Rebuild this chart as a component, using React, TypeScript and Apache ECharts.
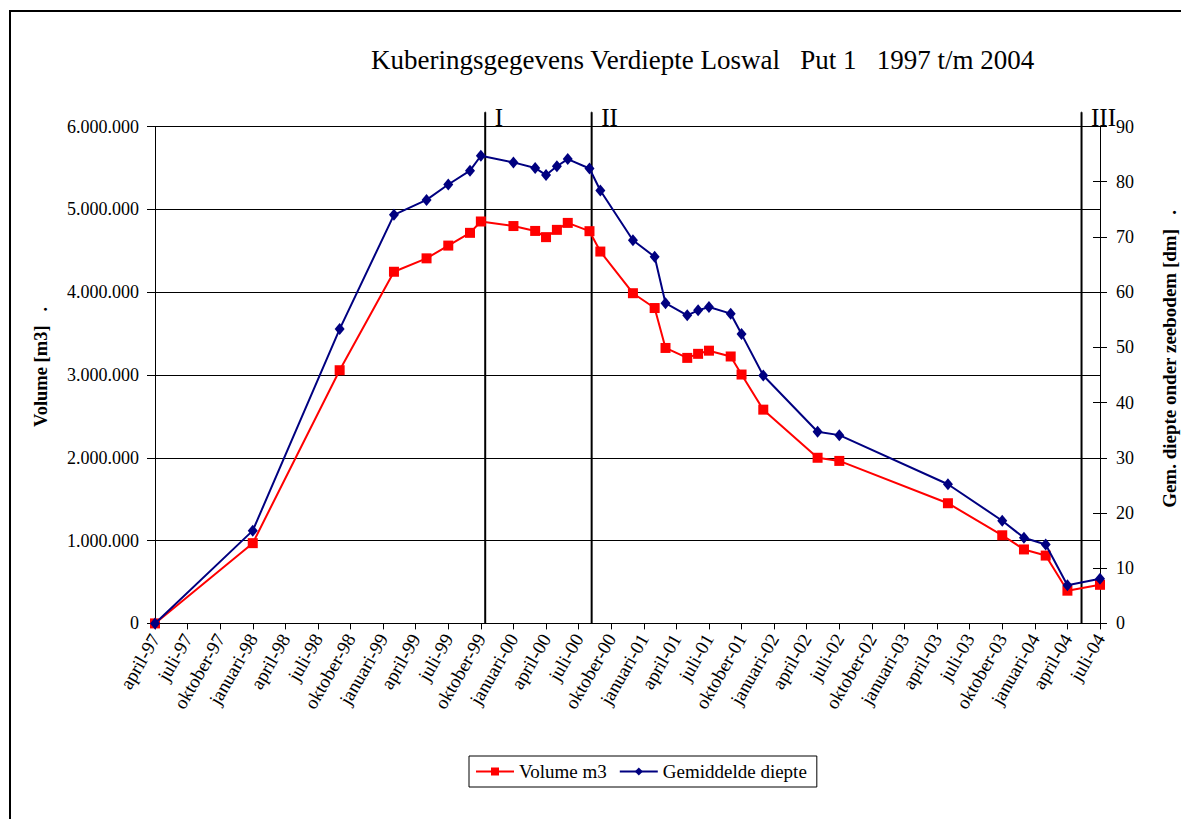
import React, { useEffect, useRef } from 'react';
import * as echarts from 'echarts';

const FONT = '"Liberation Serif", "Times New Roman", serif';

// measurement dates (year-month)
const measureDates = [
  '1997-04', '1998-01', '1998-09', '1999-02', '1999-05', '1999-07', '1999-09', '1999-10',
  '2000-01', '2000-03', '2000-04', '2000-05', '2000-06', '2000-08', '2000-09', '2000-12',
  '2001-02', '2001-03', '2001-05', '2001-06', '2001-07', '2001-09', '2001-10', '2001-12',
  '2002-05', '2002-07', '2003-05', '2003-10', '2003-12', '2004-02', '2004-04', '2004-07',
];

// Volume m3
const volumeM3 = [
  0, 969000, 3057000, 4246000, 4408000, 4562000, 4716000, 4853000,
  4798000, 4739000, 4664000, 4752000, 4836000, 4736000, 4490000, 3987000,
  3808000, 3326000, 3206000, 3255000, 3293000, 3223000, 3005000, 2581000,
  2000000, 1962000, 1451000, 1064000, 893000, 819000, 395000, 466000,
];

// Gemiddelde diepte [dm]
const gemDiepte = [
  0, 16.8, 53.3, 74.0, 76.7, 79.5, 82.0, 84.7,
  83.5, 82.5, 81.2, 82.8, 84.1, 82.4, 78.4, 69.4,
  66.4, 58.0, 55.8, 56.7, 57.3, 56.1, 52.4, 44.9,
  34.7, 34.1, 25.2, 18.6, 15.5, 14.3, 6.9, 8.1,
];

const xTickLabels = [
  'april-97', 'juli-97', 'oktober-97',
  'januari-98', 'april-98', 'juli-98', 'oktober-98',
  'januari-99', 'april-99', 'juli-99', 'oktober-99',
  'januari-00', 'april-00', 'juli-00', 'oktober-00',
  'januari-01', 'april-01', 'juli-01', 'oktober-01',
  'januari-02', 'april-02', 'juli-02', 'oktober-02',
  'januari-03', 'april-03', 'juli-03', 'oktober-03',
  'januari-04', 'april-04', 'juli-04',
];

// phase boundaries
const phaseNames = ['I', 'II', 'III'];
const phaseDates = ['1999-10-13', '2000-08-07', '2004-05-10'];

function monthIndex(d: string): number {
  const [y, m, day] = d.split('-').map(Number);
  return (y - 1997) * 12 + (m - 4) + (day ? (day - 1) / 30 : 0);
}

function fmtThousands(v: number): string {
  return String(Math.round(v)).replace(/\B(?=(\d{3})+(?!\d))/g, '.');
}

export default function App() {
  const ref = useRef<HTMLDivElement>(null);

  useEffect(() => {
    if (!ref.current) return;
    const chart = echarts.init(ref.current, null, { renderer: 'svg' });

    const xs = measureDates.map(monthIndex);
    const volData = xs.map((x, i) => [x, volumeM3[i]]);
    const diepData = xs.map((x, i) => [x, gemDiepte[i]]);

    const phaseSeries = phaseNames.map((name, i) => {
      const x = monthIndex(phaseDates[i]);
      return {
        name: 'fase ' + name,
        type: 'line',
        yAxisIndex: 1,
        clip: false,
        silent: true,
        symbol: 'circle',
        symbolSize: 1,
        itemStyle: { color: '#000' },
        lineStyle: { color: '#000', width: 2 },
        z: 1,
        data: [
          [x, 0],
          {
            value: [x, 92.6],
            label: {
              show: true,
              formatter: name,
              position: 'right',
              distance: 9,
              offset: [0, 5],
              fontFamily: FONT,
              fontSize: 25,
              color: '#000',
            },
          },
        ],
      };
    });

    const option: any = {
      animation: false,
      backgroundColor: '#fff',
      title: {
        text: 'Kuberingsgegevens Verdiepte Loswal   Put 1   1997 t/m 2004',
        left: 366,
        top: 41,
        textStyle: { fontFamily: FONT, fontSize: 27, fontWeight: 'normal', color: '#000' },
      },
      legend: {
        data: ['Volume m3', 'Gemiddelde diepte'],
        left: 469,
        top: 756,
        orient: 'horizontal',
        borderColor: '#000',
        borderWidth: 1,
        padding: [6, 10, 6, 6],
        itemGap: 12,
        itemWidth: 38,
        itemHeight: 10,
        textStyle: { fontFamily: FONT, fontSize: 19, color: '#000' },
      },
      graphic: [
        {
          type: 'polyline',
          shape: { points: [[10, 830], [10, 11], [1190, 11]] },
          style: { fill: 'none', stroke: '#000', lineWidth: 2 },
          silent: true,
        },
      ],
      grid: {
        left: 155,
        right: 81,
        top: 126.5,
        bottom: 195.6,
        containLabel: false,
        outerBoundsMode: 'none',
      },
      xAxis: {
        type: 'value',
        min: 0,
        max: 87,
        interval: 3,
        axisLine: { show: true, lineStyle: { color: '#000', width: 1 } },
        axisTick: { show: true, inside: false, length: 6, lineStyle: { color: '#000' } },
        splitLine: { show: false },
        axisLabel: {
          rotate: 60,
          margin: 12,
          showMaxLabel: true,
          showMinLabel: true,
          fontFamily: FONT,
          fontSize: 19,
          color: '#000',
          formatter: (v: number) => xTickLabels[Math.round(v / 3)] ?? '',
        },
      },
      yAxis: [
        {
          type: 'value',
          position: 'left',
          min: 0,
          max: 6000000,
          interval: 1000000,
          name: 'Volume [m3]   .',
          nameLocation: 'middle',
          nameRotate: 90,
          nameGap: 105,
          nameTextStyle: {
            fontFamily: FONT,
            fontSize: 18.5,
            fontWeight: 'bold',
            color: '#000',
            padding: [0, 0, 0, 16],
          },
          axisLine: { show: true, lineStyle: { color: '#000', width: 1 } },
          axisTick: { show: true, inside: false, length: 8, lineStyle: { color: '#000' } },
          splitLine: { show: true, lineStyle: { color: '#000', width: 1 } },
          axisLabel: {
            margin: 16,
            fontFamily: FONT,
            fontSize: 18,
            color: '#000',
            formatter: (v: number) => fmtThousands(v),
          },
        },
        {
          type: 'value',
          position: 'right',
          min: 0,
          max: 90,
          interval: 10,
          name: 'Gem. diepte onder zeebodem [dm]   .',
          nameLocation: 'middle',
          nameRotate: 90,
          nameGap: 60,
          nameTextStyle: {
            fontFamily: FONT,
            fontSize: 19,
            fontWeight: 'bold',
            color: '#000',
            padding: [0, 0, 0, 32],
          },
          axisLine: { show: true, lineStyle: { color: '#000', width: 1 } },
          axisTick: { show: true, inside: false, length: 7, lineStyle: { color: '#000' } },
          splitLine: { show: false },
          axisLabel: { margin: 16, fontFamily: FONT, fontSize: 18, color: '#000' },
        },
        {
          type: 'value',
          position: 'right',
          min: 0,
          max: 90,
          interval: 10,
          axisLine: { show: false },
          axisTick: { show: true, inside: true, length: 7, lineStyle: { color: '#000' } },
          splitLine: { show: false },
          axisLabel: { show: false },
        },
      ],
      series: [
        {
          name: 'Volume m3',
          type: 'line',
          yAxisIndex: 0,
          data: volData,
          symbol: 'rect',
          symbolSize: 10,
          itemStyle: { color: '#FF0000' },
          lineStyle: { color: '#FF0000', width: 2 },
          z: 3,
        },
        {
          name: 'Gemiddelde diepte',
          type: 'line',
          yAxisIndex: 1,
          data: diepData,
          symbol: 'diamond',
          symbolSize: [10, 12],
          itemStyle: { color: '#000080' },
          lineStyle: { color: '#000080', width: 2 },
          z: 4,
        },
        ...phaseSeries,
      ],
    };

    chart.setOption(option);
    return () => chart.dispose();
  }, []);

  return (
    <div
      ref={ref}
      style={{ position: 'fixed', left: 0, top: 0, width: 1181, height: 819, background: '#fff' }}
    />
  );
}
